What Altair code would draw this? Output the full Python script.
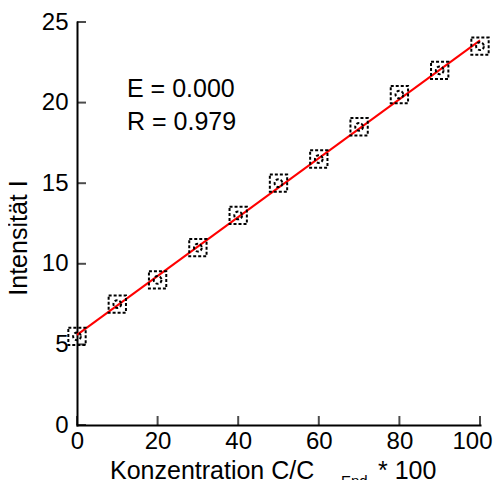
import altair as alt
import pandas as pd

# Data
conc = [0, 10, 20, 30, 40, 50, 60, 70, 80, 90, 100]
intensity = [5.5, 7.5, 9.0, 11.0, 13.0, 15.0, 16.5, 18.5, 20.5, 22.0, 23.5]
x_ticks = [0, 20, 40, 60, 80, 100]
y_ticks = [0, 5, 10, 15, 20, 25]
stats_lines = ["E = 0.000", "R = 0.979"]

df = pd.DataFrame({"c": conc, "i": intensity})
xt = pd.DataFrame({"c": x_ticks})
yt = pd.DataFrame({"i": y_ticks})

FONT = "Liberation Sans"
W = 403
H = 403

xscale = alt.Scale(domain=[0, 100], nice=False, zero=False)
yscale = alt.Scale(domain=[0, 25], nice=False, zero=False)


def X():
    return alt.X("c:Q", scale=xscale,
                 axis=alt.Axis(values=x_ticks, title=None, labelPadding=4,
                               labelOffset={"condition": {"test": "datum.value === 100", "value": -8},
                                            "value": 0}))


def Y():
    return alt.Y("i:Q", scale=yscale,
                 axis=alt.Axis(values=y_ticks, title=None, labelPadding=9))


base = alt.Chart(df)

squares = base.mark_point(shape="square", size=300, filled=False, color="black",
                          strokeWidth=2, strokeDash=[3, 2], opacity=1).encode(x=X(), y=Y())
circles = base.mark_point(shape="circle", size=60, filled=False, color="black",
                          strokeWidth=2, strokeDash=[3, 2], opacity=1).encode(x=X(), y=Y())

fit = base.transform_regression("c", "i", extent=[0, 100]).mark_line(
    color="red", strokeWidth=2).encode(x=X(), y=Y())

xticks_layer = alt.Chart(xt).mark_tick(color="black", thickness=2, size=9).encode(
    x=X(), y=alt.value(H - 4.5))
yticks_layer = alt.Chart(yt).mark_tick(color="black", thickness=2, size=9).encode(
    y=Y(), x=alt.value(4.5))


def label(s, x, y, size=25, angle=0, align="left", baseline="alphabetic"):
    d = pd.DataFrame({"t": [s]})
    kw = dict(align=align, baseline=baseline, font=FONT, fontSize=size, color="black")
    if angle:
        kw["angle"] = angle
    return alt.Chart(d).mark_text(**kw).encode(text="t:N", x=alt.value(x), y=alt.value(y))


stat1 = label(stats_lines[0], 50, 75)
stat2 = label(stats_lines[1], 50, 108)
xt1 = label("Konzentration C/C", 33, 457)
xt2 = label("End", 264, 464, size=15)
xt3 = label("* 100", 301, 457)
ytitle = label("Intensität I", -58, 216, angle=270, align="center", baseline="middle")

chart = alt.layer(fit, squares, circles, xticks_layer, yticks_layer, stat1, stat2,
                  xt1, xt2, xt3, ytitle).properties(
    width=W, height=H,
    autosize=alt.AutoSizeParams(type="none"),
    padding={"left": 69, "top": 14, "right": 13, "bottom": 55},
).configure_view(stroke=None).configure_axis(
    grid=False, ticks=False, domainColor="black", domainWidth=2, domainCap="square",
    labelFont=FONT, labelFontSize=24, labelColor="black", labelFlush=False,
    labelOverlap=False, title=None)

chart.save("out.html", embed_options={"renderer": "svg", "actions": False})
